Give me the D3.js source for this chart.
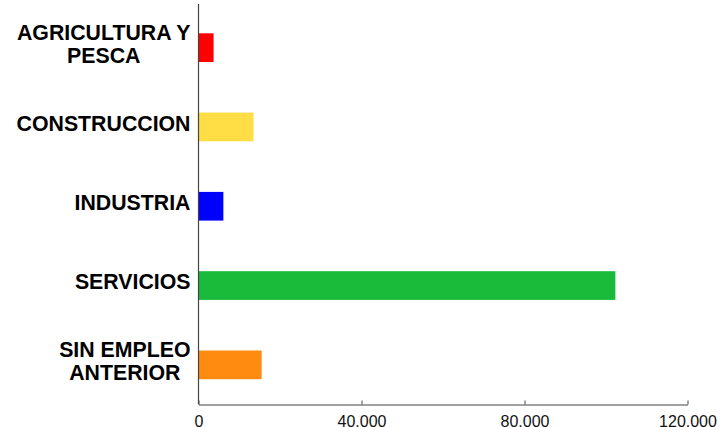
<!DOCTYPE html>
<html>
<head>
<meta charset="utf-8">
<script src="https://cdn.jsdelivr.net/npm/d3@7"></script>
<style>
  body { margin: 0; background: #fff; }
  svg { display: block; }
</style>
</head>
<body>
<div id="chart"></div>
<script>
// Data
const categories = [
    ["AGRICULTURA Y", "PESCA"],
    ["CONSTRUCCION"],
    ["INDUSTRIA"],
    ["SERVICIOS"],
    ["SIN EMPLEO", "ANTERIOR"]
];
const values = [3700, 13500, 6100, 102300, 15500];
const colors = ["#ff0000", "#ffdd44", "#0000ff", "#1aba3a", "#ff8c10"];
const xTicks = [0, 40000, 80000, 120000];

const width = 724, height = 427;
const x0 = 198.5, x1 = 687.5, yTop = 8, yBottom = 404.5;

const svg = d3.select("#chart")
    .append("svg")
    .attr("width", width)
    .attr("height", height);

const x = d3.scaleLinear().domain([0, 120000]).range([x0, x1]);
const y = d3.scaleBand()
    .domain(d3.range(categories.length))
    .range([yTop, yBottom])
    .paddingInner(0.638)
    .paddingOuter(0.319);

// bars
svg.selectAll("rect.bar")
    .data(values)
    .join("rect")
    .attr("class", "bar")
    .attr("x", x(0))
    .attr("y", (d, i) => y(i))
    .attr("width", (d) => x(d) - x(0))
    .attr("height", y.bandwidth())
    .attr("fill", (d, i) => colors[i]);

// x axis
const fmt = (d) => d3.format(",")(d).replace(/,/g, ".");
const xAxis = svg.append("g")
    .attr("transform", `translate(0,${yBottom})`)
    .call(d3.axisBottom(x).tickValues(xTicks).tickFormat(fmt)
        .tickSizeInner(-4).tickSizeOuter(0).tickPadding(11));
xAxis.select(".domain").attr("stroke", "#444").attr("stroke-width", 1.2);
xAxis.selectAll(".tick line").attr("stroke", "#444");
xAxis.selectAll(".tick text")
    .attr("fill", "#111")
    .style("font-family", "Liberation Sans, Arial, sans-serif")
    .style("font-size", "16px");

// y axis line
svg.append("line")
    .attr("x1", x0).attr("x2", x0)
    .attr("y1", 4).attr("y2", yBottom)
    .attr("stroke", "#444")
    .attr("stroke-width", 1.2);

// category labels, multi-line centered, right edge at 190
const labelRight = 190.5;
const fontSize = 21.3, lineH = 23.5;
categories.forEach((lines, i) => {
    const cy = y(i) + y.bandwidth() / 2 - 4;
    const g = svg.append("text")
        .style("font-family", "Liberation Sans, Arial, sans-serif")
        .style("font-weight", "bold")
        .style("font-size", fontSize + "px")
        .attr("fill", "#000")
        .attr("text-anchor", "middle");
    const first = cy - (lines.length - 1) * lineH / 2 + fontSize * 0.36;
    const spans = lines.map((t, k) =>
        g.append("tspan").attr("y", first + k * lineH).text(t));
    const maxW = d3.max(spans, (s) => s.node().getComputedTextLength());
    spans.forEach((s) => s.attr("x", labelRight - maxW / 2));
});
</script>
</body>
</html>
